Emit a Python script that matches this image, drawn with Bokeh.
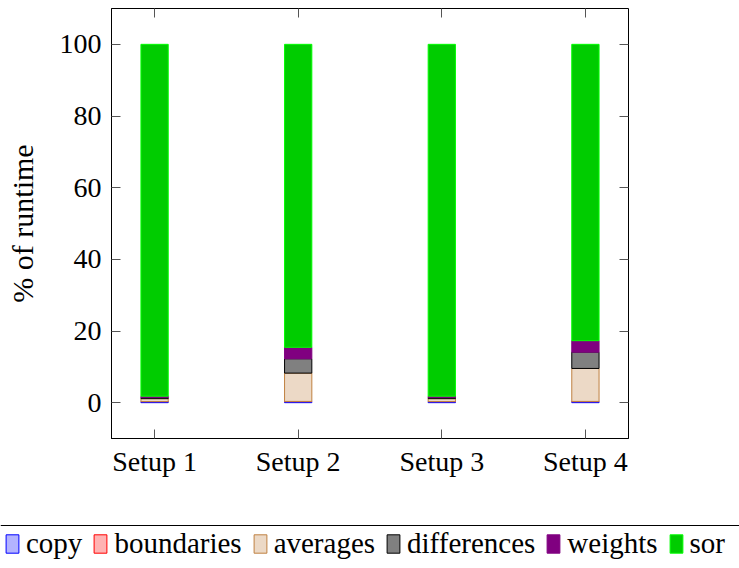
from bokeh.plotting import figure
from bokeh.models import (Range1d, FixedTicker, LinearAxis, Legend, LegendItem,
                          ColumnDataSource, Span)
from bokeh.layouts import column
from bokeh.embed import file_html
from bokeh.resources import INLINE

# ---- data ----
setups = ["Setup 1", "Setup 2", "Setup 3", "Setup 4"]
positions = [1, 2, 3, 4]
copy = [0.3, 0.3, 0.3, 0.3]
boundaries = [0.02, 0.05, 0.02, 0.05]
averages = [0.8, 7.9, 0.8, 9.2]
differences = [0.3, 4.0, 0.3, 4.55]
weights = [0.4, 3.2, 0.4, 3.2]
sor = [98.18, 84.55, 98.18, 82.7]
y_ticks = [0, 20, 40, 60, 80, 100]

series_names = ["copy", "boundaries", "averages", "differences", "weights", "sor"]
fill_colors = ["#b3b3ff", "#ffb3b3", "#ecd9c6", "#808080", "#800080", "#00cc00"]
line_colors = ["#0000ff", "#ff0000", "#bf8040", "#000000", "#800080", "#00ff00"]

FONT = "Liberation Serif"
FS = "28px"

source = ColumnDataSource(dict(x=positions, copy=copy, boundaries=boundaries,
                               averages=averages, differences=differences,
                               weights=weights, sor=sor))

p = figure(width=739, height=500, output_backend="svg", toolbar_location=None,
           x_range=Range1d(0.7, 4.3), y_range=Range1d(-10, 110),
           min_border_left=111, min_border_right=111, min_border_top=8,
           min_border_bottom=62, frame_align=False)
p.grid.visible = False
p.outline_line_color = "black"
p.outline_line_width = 1
p.background_fill_color = "white"
p.border_fill_color = "white"

renderers = p.vbar_stack(series_names, x="x", width=0.19, source=source,
                         fill_color=fill_colors, line_color=line_colors,
                         line_width=1)

xa = p.xaxis[0]
xa.ticker = FixedTicker(ticks=positions)
xa.major_label_overrides = {pos: lab for pos, lab in zip(positions, setups)}
ya = p.yaxis[0]
ya.ticker = FixedTicker(ticks=y_ticks)
ya.axis_label = "% of runtime"
ya.axis_label_text_font_style = "normal"
ya.axis_label_text_font = FONT
ya.axis_label_text_font_size = "30px"
ya.axis_label_text_color = "black"
ya.axis_label_standoff = 18

for ax in (xa, ya):
    ax.major_label_text_font = FONT
    ax.major_label_text_font_size = FS
    ax.major_label_text_color = "black"
    ax.major_tick_in = 9
    ax.major_tick_out = 0
    ax.major_tick_line_color = "#555555"
    ax.minor_tick_line_color = None
    ax.axis_line_color = "black"
ya.major_label_standoff = 10
xa.major_label_standoff = 7

top = LinearAxis(ticker=FixedTicker(ticks=positions),
                 major_label_overrides={t: "" for t in positions},
                 major_tick_in=9, major_tick_out=0, minor_tick_line_color=None,
                 axis_line_color=None, major_tick_line_color="#555555",
                 major_label_standoff=0)
right = LinearAxis(ticker=FixedTicker(ticks=y_ticks),
                   major_label_overrides={t: "" for t in y_ticks},
                   major_tick_in=9, major_tick_out=0, minor_tick_line_color=None,
                   axis_line_color=None, major_tick_line_color="#555555",
                   major_label_standoff=0)
p.add_layout(top, "above")
p.add_layout(right, "right")

# ---- legend strip (separate figure below the plot) ----
lg = figure(width=739, height=68, output_backend="svg", toolbar_location=None,
            x_range=Range1d(1000, 1739), y_range=Range1d(1000, 1068),
            x_axis_type=None, y_axis_type=None,
            min_border_left=0, min_border_right=0, min_border_top=0,
            min_border_bottom=0, frame_align=False)
lg.grid.visible = False
lg.outline_line_color = None
lg.background_fill_color = "white"
lg.border_fill_color = "white"

# legend key renderers (same series; they fall outside the strip's visible range)
proxy = lg.vbar_stack(series_names, x="x", width=0.19, source=source,
                      fill_color=fill_colors, line_color=line_colors,
                      line_width=1)

lg.add_layout(Span(location=1043, dimension="width", line_color="black",
                   line_width=1))

legend = Legend(items=[LegendItem(label=n, renderers=[r])
                       for n, r in zip(series_names, proxy)],
                orientation="horizontal", location=(4, 8),
                label_text_font=FONT, label_text_font_size="29px",
                label_text_color="black",
                glyph_width=16, glyph_height=23, label_standoff=6, spacing=10,
                padding=6, margin=0, border_line_color=None,
                background_fill_alpha=0, label_height=23)
lg.add_layout(legend, "center")

layout = column(p, lg, spacing=0)
open("out.html", "w").write(file_html(layout, INLINE))
